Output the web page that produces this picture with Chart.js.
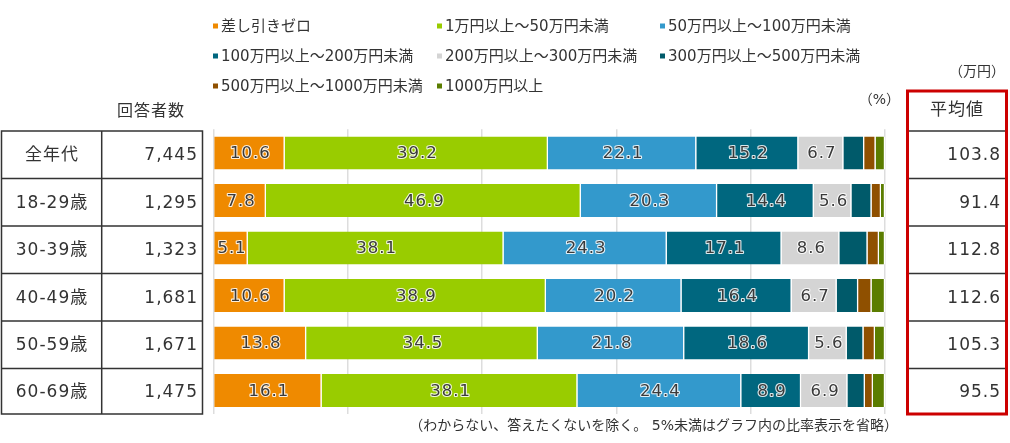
<!DOCTYPE html>
<html><head><meta charset="utf-8">
<script src="https://cdn.jsdelivr.net/npm/chart.js@4.4.1/dist/chart.umd.min.js"></script>
<style>html,body{margin:0;padding:0;background:#fff}#wrap{width:1010px;height:443px;position:relative}</style>
</head><body><div id="wrap"><canvas id="c" width="1010" height="443"></canvas></div>
<script>
const categories = ['全年代','18-29歳','30-39歳','40-49歳','50-59歳','60-69歳'];
const respondents = ['7,445','1,295','1,323','1,681','1,671','1,475'];
const averages = ['103.8','91.4','112.8','112.6','105.3','95.5'];
const seriesNames = ['差し引きゼロ','1万円以上～50万円未満','50万円以上～100万円未満','100万円以上～200万円未満','200万円以上～300万円未満','300万円以上～500万円未満','500万円以上～1000万円未満','1000万円以上'];
const seriesColors = ['#ef8a00','#99cc00','#3399cc','#00677f','#d4d4d4','#005a6a','#8f5000','#5b7d00'];
const s0 = [10.6, 7.8, 5.1, 10.6, 13.8, 16.1];
const s1 = [39.2, 46.9, 38.1, 38.9, 34.5, 38.1];
const s2 = [22.1, 20.3, 24.3, 20.2, 21.8, 24.4];
const s3 = [15.2, 14.4, 17.1, 16.4, 18.6, 8.9];
const s4 = [6.7, 5.6, 8.6, 6.7, 5.6, 6.9];
const s5 = [3.1, 3.0, 4.2, 3.2, 2.5, 2.6];
const s6 = [1.7, 1.4, 1.7, 2.0, 1.7, 1.2];
const s7 = [1.4, 0.6, 0.9, 2.0, 1.5, 1.8];
const seriesValues = [s0,s1,s2,s3,s4,s5,s6,s7];
const xTicks = [0,20,40,60,80,100];
const noteText = '（わからない、答えたくないを除く。 5%未満はグラフ内の比率表示を省略）';

const FONT = '"DejaVu Sans","Noto Sans CJK JP",sans-serif';

const overlay = {
  id: 'overlay',
  afterDatasetsDraw(chart) {
    const ctx = chart.ctx;
    ctx.save();
    ctx.font = '16.5px ' + FONT;
    ctx.letterSpacing = '1px';
    ctx.textAlign = 'center';
    ctx.textBaseline = 'middle';
    ctx.lineJoin = 'round';
    chart.data.datasets.forEach((ds, di) => {
      const meta = chart.getDatasetMeta(di);
      meta.data.forEach((el, i) => {
        const v = ds.data[i];
        if (v < 5) return;
        const p = el.getCenterPoint();
        const t = v.toFixed(1);
        ctx.lineWidth = 2.2;
        ctx.strokeStyle = 'rgba(255,255,255,0.85)';
        ctx.strokeText(t, p.x + 1, p.y + 1);
        ctx.fillStyle = '#3a3a3a';
        ctx.fillText(t, p.x + 1, p.y + 1);
      });
    });
    ctx.restore();
  },
  afterDraw(chart) {
    const ctx = chart.ctx;
    const ys = chart.scales.y;
    const yc = categories.map((c, i) => ys.getPixelForValue(i));
    const tops = yc.map(y => y - 22);
    const bottom = yc[yc.length - 1] + 23.5;
    ctx.save();
    // legend
    ctx.font = '15px ' + FONT;
    ctx.textBaseline = 'middle';
    ctx.textAlign = 'left';
    const colX = [213, 437, 660];
    const rowY = [26, 56, 86];
    chart.data.datasets.forEach((ds, i) => {
      const cx = colX[i % 3], cy = rowY[Math.floor(i / 3)];
      ctx.fillStyle = ds.backgroundColor;
      ctx.fillRect(cx, cy - 2.5, 5, 5);
      ctx.fillStyle = '#333';
      ctx.fillText(ds.label, cx + 8, cy + 1);
    });
    ctx.font = '14px ' + FONT;
    ctx.textAlign = 'right';
    ctx.fillText('（%）', 900, 100);
    ctx.fillText('（万円）', 1005, 72);
    // note
    ctx.fillText(noteText, 898, 426);

    // left table
    ctx.strokeStyle = '#333';
    ctx.lineWidth = 1.5;
    ctx.beginPath();
    ctx.rect(1.5, tops[0], 201, bottom - tops[0]);
    tops.forEach((t, i) => { if (i > 0) { ctx.moveTo(1.5, t); ctx.lineTo(202.5, t); } });
    ctx.moveTo(101.7, tops[0]); ctx.lineTo(101.7, bottom);
    ctx.stroke();
    ctx.fillStyle = '#333';
    ctx.letterSpacing = '1px';
    ctx.font = '16px ' + FONT;
    ctx.textAlign = 'center';
    ctx.fillText('回答者数', 151, 112);
    ctx.font = '17px ' + FONT;
    categories.forEach((c, i) => {
      const cy = (tops[i] + (i < tops.length - 1 ? tops[i + 1] : bottom)) / 2;
      ctx.textAlign = 'center';
      ctx.fillText(c, 52, cy + 1);
      ctx.textAlign = 'right';
      ctx.fillText(respondents[i], 198, cy + 1);
    });

    // right box
    const bx = 907.5, bw = 99, btop = 91;
    ctx.strokeStyle = '#333';
    ctx.lineWidth = 1.5;
    ctx.beginPath();
    tops.forEach(t => { ctx.moveTo(bx, t); ctx.lineTo(bx + bw, t); });
    ctx.stroke();
    ctx.strokeStyle = '#cc0000';
    ctx.lineWidth = 3;
    ctx.strokeRect(bx, btop, bw, bottom - btop);
    ctx.fillStyle = '#333';
    ctx.textAlign = 'center';
    ctx.font = '17px ' + FONT;
    ctx.fillText('平均値', 957, 111);
    ctx.textAlign = 'right';
    averages.forEach((a, i) => {
      const cy = (tops[i] + (i < tops.length - 1 ? tops[i + 1] : bottom)) / 2;
      ctx.fillText(a, 1001, cy + 1);
    });
    ctx.restore();
  }
};

new Chart(document.getElementById('c'), {
  type: 'bar',
  data: {
    labels: categories,
    datasets: seriesValues.map((vals, i) => ({
      label: seriesNames[i],
      data: vals,
      backgroundColor: seriesColors[i],
      borderColor: '#ffffff',
      borderWidth: {left: 0, right: 1.2, top: 0, bottom: 0},
      borderSkipped: false,
      categoryPercentage: 1,
      barPercentage: 0.69
    }))
  },
  options: {
    indexAxis: 'y',
    responsive: false,
    animation: false,
    devicePixelRatio: 1,
    layout: { padding: { left: 213.5, right: 125, top: 129.25, bottom: 28.75 } },
    plugins: { legend: { display: false }, tooltip: { enabled: false } },
    scales: {
      x: {
        stacked: true, min: 0, max: 100,
        afterBuildTicks: (s) => { s.ticks = xTicks.map(v => ({ value: v })); },
        ticks: { display: false },
        grid: { color: '#dddddd', lineWidth: 1.5, drawTicks: false },
        border: { display: false }
      },
      y: { stacked: true, display: false }
    }
  },
  plugins: [overlay]
});
</script>
</body></html>
